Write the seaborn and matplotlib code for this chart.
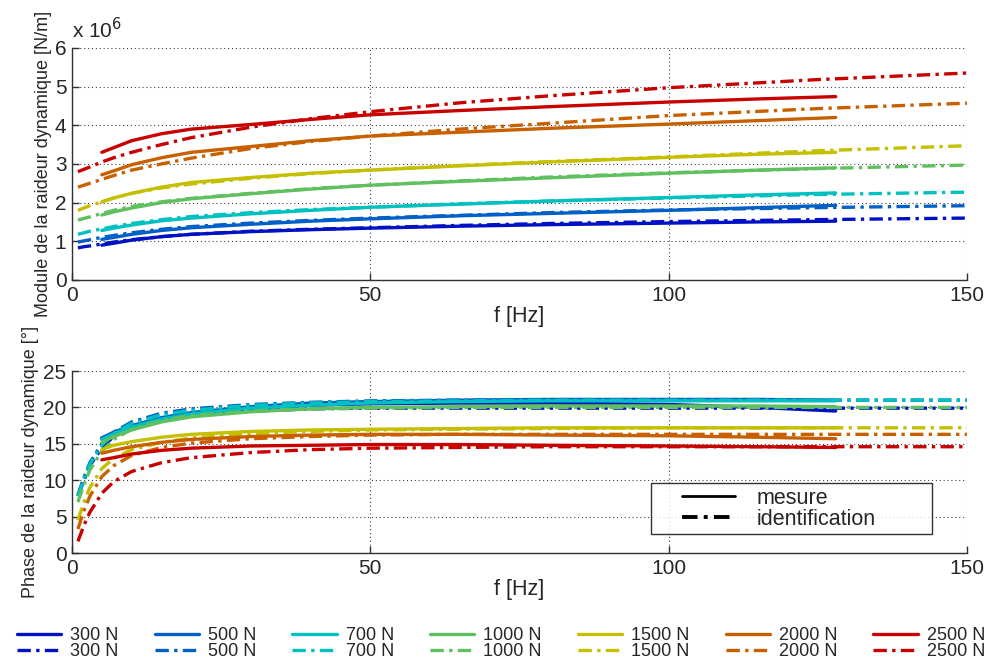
import matplotlib
matplotlib.use("Agg")
import matplotlib.pyplot as plt
from matplotlib.lines import Line2D
from matplotlib.legend_handler import HandlerLine2D
import seaborn as sns

# frequencies [Hz]
f_mes = [5, 7, 10, 15, 20, 30, 40, 50, 65, 80, 100, 115, 128]
f_id = [1, 2, 3, 5, 7, 10, 15, 20, 30, 40, 50, 65, 80, 100, 125, 150]

loads = ["300 N", "500 N", "700 N", "1000 N", "1500 N", "2000 N", "2500 N"]
colors = ["#0010c4", "#0060c8", "#00c0c0", "#60c060", "#c4c000", "#c86000", "#c80000"]

# module of the dynamic stiffness, in 1e6 N/m
mod_mes = {
    "300 N": [0.90, 0.95, 1.03, 1.12, 1.18, 1.25, 1.30, 1.34, 1.39, 1.43, 1.47, 1.50, 1.52],
    "500 N": [1.05, 1.10, 1.18, 1.28, 1.35, 1.44, 1.52, 1.58, 1.66, 1.72, 1.80, 1.87, 1.93],
    "700 N": [1.28, 1.34, 1.42, 1.53, 1.60, 1.71, 1.80, 1.88, 1.96, 2.04, 2.13, 2.20, 2.25],
    "1000 N": [1.68, 1.76, 1.86, 2.00, 2.10, 2.23, 2.35, 2.45, 2.55, 2.64, 2.76, 2.84, 2.90],
    "1500 N": [2.02, 2.12, 2.24, 2.40, 2.52, 2.65, 2.76, 2.84, 2.95, 3.05, 3.17, 3.25, 3.30],
    "2000 N": [2.72, 2.82, 2.98, 3.16, 3.30, 3.45, 3.60, 3.72, 3.82, 3.92, 4.03, 4.12, 4.20],
    "2500 N": [3.30, 3.42, 3.60, 3.78, 3.90, 4.02, 4.15, 4.27, 4.38, 4.48, 4.60, 4.68, 4.74],
}
mod_id = {
    "300 N": [0.83, 0.86, 0.88, 0.93, 0.98, 1.04, 1.12, 1.18, 1.26, 1.31, 1.35, 1.41, 1.46, 1.51, 1.56, 1.60],
    "500 N": [0.98, 1.01, 1.04, 1.10, 1.15, 1.22, 1.31, 1.38, 1.47, 1.54, 1.60, 1.67, 1.74, 1.81, 1.87, 1.92],
    "700 N": [1.18, 1.22, 1.26, 1.32, 1.38, 1.46, 1.56, 1.64, 1.74, 1.82, 1.88, 1.97, 2.04, 2.12, 2.21, 2.27],
    "1000 N": [1.55, 1.59, 1.63, 1.72, 1.80, 1.90, 2.02, 2.11, 2.24, 2.36, 2.45, 2.56, 2.66, 2.77, 2.88, 2.97],
    "1500 N": [1.80, 1.86, 1.92, 2.02, 2.12, 2.24, 2.38, 2.48, 2.63, 2.75, 2.84, 2.96, 3.06, 3.18, 3.34, 3.47],
    "2000 N": [2.40, 2.45, 2.50, 2.60, 2.70, 2.84, 3.00, 3.15, 3.40, 3.58, 3.72, 3.90, 4.05, 4.25, 4.43, 4.57],
    "2500 N": [2.80, 2.86, 2.92, 3.05, 3.16, 3.30, 3.50, 3.68, 3.95, 4.17, 4.35, 4.58, 4.76, 4.97, 5.18, 5.35],
}

# phase of the dynamic stiffness [deg]
ph_mes = {
    "300 N": [15.8, 16.5, 17.4, 18.5, 19.2, 19.9, 20.3, 20.5, 20.6, 20.6, 20.4, 20.0, 19.5],
    "500 N": [15.8, 16.6, 17.5, 18.6, 19.3, 20.1, 20.6, 20.8, 21.0, 21.1, 21.1, 21.1, 21.0],
    "700 N": [15.6, 16.4, 17.3, 18.4, 19.1, 19.9, 20.3, 20.6, 20.8, 20.9, 20.9, 20.9, 20.9],
    "1000 N": [15.2, 16.0, 16.9, 18.0, 18.7, 19.4, 19.8, 20.0, 20.1, 20.2, 20.2, 20.2, 20.1],
    "1500 N": [14.2, 14.8, 15.3, 15.9, 16.3, 16.7, 16.9, 17.0, 17.1, 17.2, 17.2, 17.2, 17.2],
    "2000 N": [13.7, 14.1, 14.6, 15.2, 15.6, 16.0, 16.2, 16.3, 16.3, 16.2, 16.1, 15.9, 15.7],
    "2500 N": [12.8, 13.1, 13.6, 14.1, 14.4, 14.7, 14.8, 14.9, 14.9, 14.8, 14.7, 14.6, 14.5],
}
ph_id = {
    "300 N": [7.8, 10.0, 12.0, 14.5, 16.0, 17.3, 18.4, 19.0, 19.5, 19.8, 19.9, 19.9, 19.9, 19.9, 19.9, 19.9],
    "500 N": [8.0, 10.4, 12.4, 15.0, 16.6, 18.0, 19.2, 19.8, 20.4, 20.7, 20.9, 21.0, 21.0, 21.0, 21.0, 21.0],
    "700 N": [7.8, 10.2, 12.2, 14.8, 16.4, 17.8, 19.0, 19.6, 20.3, 20.6, 20.8, 20.9, 21.0, 21.0, 21.0, 21.0],
    "1000 N": [7.0, 9.4, 11.4, 14.0, 15.6, 17.0, 18.2, 18.9, 19.5, 19.8, 19.9, 20.0, 20.0, 20.0, 20.0, 20.0],
    "1500 N": [4.5, 7.0, 9.0, 11.6, 13.0, 14.2, 15.2, 15.8, 16.4, 16.7, 16.9, 17.0, 17.1, 17.2, 17.2, 17.2],
    "2000 N": [3.3, 5.8, 7.8, 10.5, 12.0, 13.4, 14.5, 15.1, 15.7, 16.0, 16.2, 16.3, 16.3, 16.3, 16.3, 16.3],
    "2500 N": [1.6, 3.8, 5.6, 8.2, 9.8, 11.2, 12.4, 13.1, 13.8, 14.2, 14.4, 14.5, 14.6, 14.6, 14.6, 14.6],
}

DASHDOT = (0, (4, 1.6, 1, 1.6))
LW = 2.4

sns.set_theme(style="white")
plt.rcParams["font.family"] = ["Liberation Sans", "DejaVu Sans"]

fig = plt.figure(figsize=(9.9, 6.65), dpi=100)
ax1 = fig.add_axes([0.0727, 0.579, 0.904, 0.349])
ax2 = fig.add_axes([0.0727, 0.1684, 0.904, 0.2737])

for load, col in zip(loads, colors):
    sns.lineplot(x=f_mes, y=mod_mes[load], ax=ax1, color=col, lw=LW, linestyle="-")
    sns.lineplot(x=f_id, y=mod_id[load], ax=ax1, color=col, lw=LW, linestyle=DASHDOT)
    sns.lineplot(x=f_mes, y=ph_mes[load], ax=ax2, color=col, lw=LW, linestyle="-")
    sns.lineplot(x=f_id, y=ph_id[load], ax=ax2, color=col, lw=LW, linestyle=DASHDOT)

for ax, ymax, step in [(ax1, 6, 1), (ax2, 25, 5)]:
    ax.set_xlim(0, 150)
    ax.set_ylim(0, ymax)
    ax.set_xticks([0, 50, 100, 150])
    ax.set_yticks(range(0, ymax + 1, step))
    ax.grid(True, color="#404040", linestyle=(0, (1, 2.5)), linewidth=0.8)
    for s in ["top", "right"]:
        ax.spines[s].set_visible(False)
    for s in ["left", "bottom"]:
        ax.spines[s].set_color("#303030")
        ax.spines[s].set_linewidth(1.0)
    ax.tick_params(direction="in", length=5, width=1, color="#303030",
                   labelsize=15, pad=4, left=True, bottom=True)
    ax.set_xlabel("f [Hz]", fontsize=15.5, labelpad=1)

ax1.set_ylabel("Module de la raideur dynamique [N/m]", fontsize=13, labelpad=2)
ax2.set_ylabel("Phase de la raideur dynamique [°]", fontsize=13, labelpad=3)
ax1.text(0.0, 1.025, "x 10$^{6}$", transform=ax1.transAxes, fontsize=15,
         ha="left", va="bottom")

# legend mesure / identification
style_handles = [Line2D([], [], color="black", lw=2, linestyle="-"),
                 Line2D([], [], color="black", lw=2.8, linestyle=DASHDOT)]
leg = ax2.legend(style_handles, ["mesure", "identification"], loc="lower left",
                 bbox_to_anchor=(0.647, 0.104, 0.314, 0.29), mode="expand",
                 fontsize=15.5, frameon=True, fancybox=False, edgecolor="black",
                 handlelength=3.7, handletextpad=1.0, borderpad=0.2,
                 labelspacing=0.0, borderaxespad=0,
                 handler_map={Line2D: HandlerLine2D(xpad=1.25)})
leg.get_frame().set_linewidth(1.0)

# bottom legend with all series
handles, labels = [], []
for load, col in zip(loads, colors):
    handles.append(Line2D([], [], color=col, lw=LW, linestyle="-"))
    labels.append(load)
    handles.append(Line2D([], [], color=col, lw=LW, linestyle=DASHDOT))
    labels.append(load)
fig.legend(handles, labels, ncol=7, loc="upper center",
           bbox_to_anchor=(0.506, 1 - 627 / 665), frameon=False, fontsize=13,
           handlelength=2.45, handletextpad=0.5, columnspacing=2.0,
           labelspacing=-0.05, borderpad=0, borderaxespad=0)

fig.savefig("out.png", dpi=100)
